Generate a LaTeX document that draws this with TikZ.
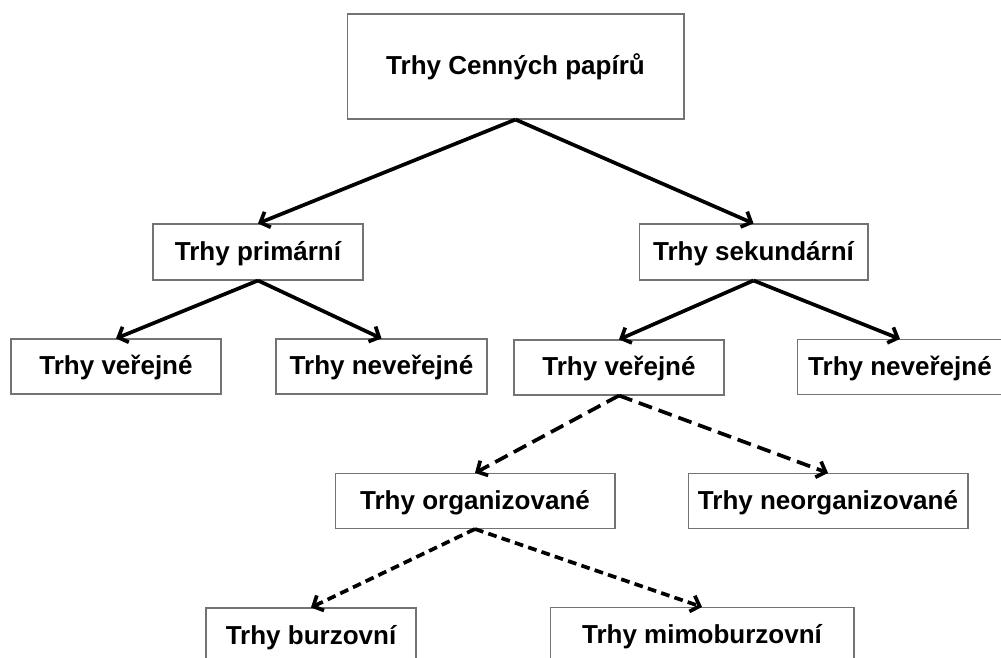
\documentclass[tikz,border=0pt]{standalone}
\usepackage{fontspec}
\setmainfont{Liberation Sans}
\usetikzlibrary{positioning, arrows.meta}

\begin{document}
\begin{tikzpicture}[x=0.02cm, y=-0.02cm, >={Straight Barb[length=4.5pt,width=9.5pt]},
						block/.style={rectangle, draw=black!55, fill=white, line width=0.6pt, text centered, inner sep=0pt,
						              text height=0.4cm, text depth=0.06cm,
						              minimum width=#1, minimum height=1.1cm, font=\fontsize{14.8}{18}\selectfont\bfseries},
						block/.default=4.2cm,
						link/.style={->, line width=2.1pt, black},
						long dash/.style={link, dash pattern=on 8pt off 4pt},
						short dash/.style={link, dash pattern=on 5pt off 3pt}]

	\clip (0,0) rectangle (1001,658);
	\fill[white] (0,0) rectangle (1001,658);

	\node[block=6.74cm, minimum height=2.1cm] (trhy)   at (515.5, 66.5) {Trhy Cenných papírů};

	\node[block=4.2cm, minimum height=1.12cm]  (prim)  at (258, 252)     {Trhy primární};
	\node[block=4.58cm, minimum height=1.12cm] (sek)   at (753.5, 252)   {Trhy sekundární};

	\node[block=4.2cm]  (p-ver)   at (116, 366.5)   {Trhy veřejné};
	\node[block=4.22cm] (p-never) at (381.5, 366.5) {Trhy neveřejné};
	\node[block=4.2cm]  (s-ver)   at (619, 367.5)   {Trhy veřejné};
	\node[block=4.1cm]  (s-never) at (900, 367)     {Trhy neveřejné};

	\node[block=5.6cm]  (org)     at (475, 501)     {Trhy organizované};
	\node[block=5.6cm]  (neorg)   at (828, 501)     {Trhy neorganizované};

	\node[block=4.2cm]  (burz)    at (311, 635.5)   {Trhy burzovní};
	\node[block=6.08cm] (mimo)    at (702, 635)     {Trhy mimoburzovní};

	%Solid branches.
	\draw[link] (trhy.south) -- (prim.north);
	\draw[link] (trhy.south) -- (sek.north);
	\draw[link] (prim.south) -- (p-ver.north);
	\draw[link] (prim.south) -- (p-never.north);
	\draw[link] (sek.south)  -- (s-ver.north);
	\draw[link] (sek.south)  -- (s-never.north);

	%Dashed branches.
	\draw[long dash]  (s-ver.south) -- (org.north);
	\draw[long dash]  (s-ver.south) -- (neorg.north);
	\draw[short dash] (org.south)   -- (burz.north);
	\draw[short dash] (org.south)   -- (mimo.north);

\end{tikzpicture}
\end{document}
